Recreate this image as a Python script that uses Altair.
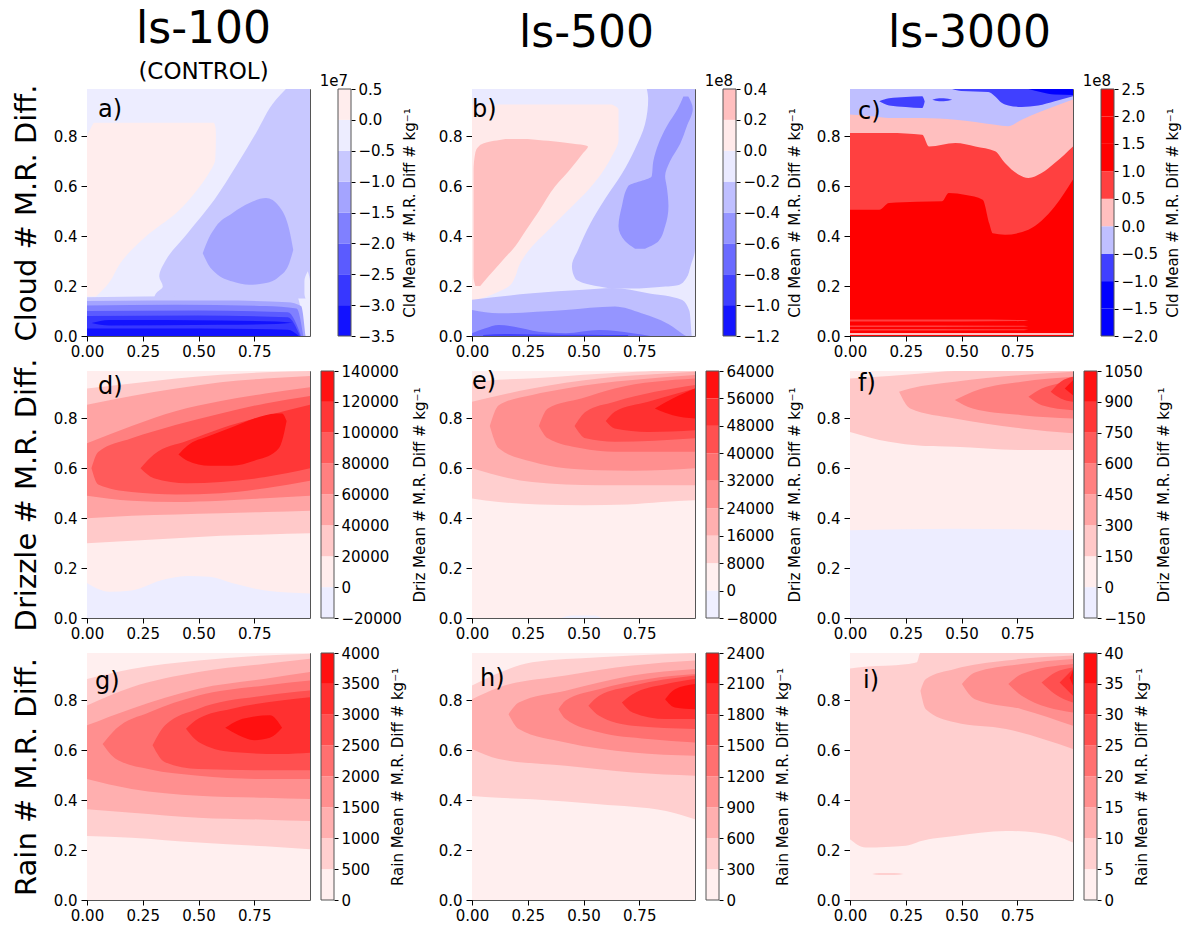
import altair as alt
import pandas as pd

FONT = "DejaVu Sans"
PW, PH = 223, 247
CB_CHART_W, CB_W = 30, 13

# ---------------- column / row texts ----------------
COL_TITLES = ["ls-100", "ls-500", "ls-3000"]
ROW_TITLES = ["Cloud # M.R. Diff.", "Drizzle # M.R. Diff.", "Rain # M.R. Diff."]
CB_TITLES = ["Cld Mean # M.R. Diff # kg⁻¹", "Driz Mean # M.R. Diff # kg⁻¹", "Rain Mean # M.R. Diff # kg⁻¹"]
X_TICKS = [0.0, 0.25, 0.5, 0.75]
Y_TICKS = [0.0, 0.2, 0.4, 0.6, 0.8]

# ---------------- contour levels (colorbar ticks) ----------------
A_LEVELS = [-3.5, -3.0, -2.5, -2.0, -1.5, -1.0, -0.5, 0.0, 0.5]          # x1e7
B_LEVELS = [-1.2, -1.0, -0.8, -0.6, -0.4, -0.2, 0.0, 0.2, 0.4]           # x1e8
C_LEVELS = [-2.0, -1.5, -1.0, -0.5, 0.0, 0.5, 1.0, 1.5, 2.0, 2.5]       # x1e8
D_LEVELS = [-20000, 0, 20000, 40000, 60000, 80000, 100000, 120000, 140000]
E_LEVELS = [-8000, 0, 8000, 16000, 24000, 32000, 40000, 48000, 56000, 64000]
F_LEVELS = [-150, 0, 150, 300, 450, 600, 750, 900, 1050]
G_LEVELS = [0, 500, 1000, 1500, 2000, 2500, 3000, 3500, 4000]
H_LEVELS = [0, 300, 600, 900, 1200, 1500, 1800, 2100, 2400]
I_LEVELS = [0, 5, 10, 15, 20, 25, 30, 35, 40]

# ---------------- band colours (bottom -> top) ----------------
A_COLORS = ["#1212ff", "#3737ff", "#5b5bff", "#8080ff", "#a4a4ff", "#c8c8ff", "#ededff", "#ffeded"]
B_COLORS = ["#1515ff", "#4040ff", "#6a6aff", "#9595ff", "#bfbfff", "#eaeaff", "#ffeaea", "#ffbfbf"]
C_COLORS = ["#0000ff", "#0000ff", "#4040ff", "#bfbfff", "#ffbfbf", "#ff4040", "#ff0000", "#ff0000", "#ff0000"]
D_COLORS = ["#ededff", "#ffeded", "#ffc9c9", "#ffa4a4", "#ff8080", "#ff5b5b", "#ff3737", "#ff1212"]
E_COLORS = ["#efefff", "#ffefef", "#ffcfcf", "#ffafaf", "#ff8f8f", "#ff7070", "#ff5050", "#ff3030", "#ff1010"]
F_COLORS = ["#ededff", "#ffeded", "#ffc8c8", "#ffa4a4", "#ff8080", "#ff5b5b", "#ff3737", "#ff1212"]
G_COLORS = ["#ffefef", "#ffcfcf", "#ffafaf", "#ff8f8f", "#ff7070", "#ff5050", "#ff3030", "#ff1010"]
H_COLORS = G_COLORS
I_COLORS = G_COLORS

# ---------------- filled regions ----------------
# ("v", band, [(x, y_low, y_high), ...])  or  ("h", band, [(y, x_left, x_right), ...])
A_BG = 6
A_REGIONS = [
    ("h", 5, [(0.99, 0.892, 1.0), (0.948, 0.848, 1.0), (0.814, 0.758, 1.0), (0.68, 0.668, 1.0),
              (0.546, 0.571, 1.0), (0.412, 0.451, 1.0), (0.305, 0.354, 1.0), (0.238, 0.324, 1.0),
              (0.198, 0.34, 1.0), (0.171, 0.31, 1.0), (0.15, 0.30, 1.0)]),
    ("h", 7, [(0.855, 0.03, 0.57), (0.83, 0.015, 0.577), (0.80, 0.0, 0.578), (0.707, 0.0, 0.575),
              (0.65, 0.0, 0.545), (0.597, 0.0, 0.504), (0.493, 0.0, 0.40), (0.40, 0.0, 0.265),
              (0.305, 0.0, 0.16), (0.198, 0.0, 0.085), (0.158, 0.0, 0.04)]),
    ("v", 4, [(0.519, 0.332, 0.332), (0.545, 0.285, 0.39), (0.578, 0.252, 0.439), (0.653, 0.218, 0.493),
              (0.728, 0.205, 0.533), (0.803, 0.212, 0.553), (0.862, 0.238, 0.519), (0.907, 0.292, 0.426),
              (0.925, 0.345, 0.345)]),
    ("h", 6, [(0.26, 0.99, 0.99), (0.22, 0.975, 1.0), (0.17, 0.975, 1.0), (0.13, 0.99, 1.0)]),
    ("v", 5, [(0.0, 0.0, 0.155), (0.5, 0.0, 0.16), (0.94, 0.0, 0.16), (0.975, 0.0, 0.0)]),
    ("v", 4, [(0.0, 0.0, 0.14), (0.3, 0.0, 0.142), (0.6, 0.0, 0.142), (0.9, 0.0, 0.135), (0.96, 0.0, 0.12), (0.98, 0.0, 0.0)]),
    ("v", 3, [(0.0, 0.0, 0.122), (0.4, 0.0, 0.125), (0.8, 0.0, 0.12), (0.94, 0.0, 0.11), (0.97, 0.0, 0.0)]),
    ("v", 2, [(0.0, 0.0, 0.10), (0.5, 0.0, 0.102), (0.9, 0.0, 0.095), (0.96, 0.0, 0.0)]),
    ("v", 1, [(0.0, 0.0, 0.08), (0.5, 0.0, 0.082), (0.9, 0.0, 0.075), (0.955, 0.0, 0.0)]),
    ("v", 0, [(0.02, 0.052, 0.052), (0.1, 0.042, 0.064), (0.6, 0.045, 0.062), (0.85, 0.048, 0.058), (0.92, 0.053, 0.053)]),
    ("v", 0, [(0.0, 0.0, 0.03), (0.5, 0.0, 0.03), (0.9, 0.0, 0.025), (0.95, 0.0, 0.0)]),
]

B_BG = 5
B_REGIONS = [
    ("h", 6, [(0.928, 0.0, 0.627), (0.908, 0.0, 0.657), (0.787, 0.0, 0.657), (0.72, 0.0, 0.627),
              (0.653, 0.0, 0.582), (0.586, 0.0, 0.522), (0.519, 0.0, 0.448), (0.466, 0.0, 0.388),
              (0.412, 0.0, 0.328), (0.359, 0.0, 0.269), (0.278, 0.0, 0.209), (0.238, 0.0, 0.194),
              (0.198, 0.0, 0.164), (0.171, 0.0, 0.104), (0.151, 0.0, 0.045), (0.14, 0.0, 0.0)]),
    ("h", 7, [(0.79, 0.15, 0.25), (0.775, 0.06, 0.42), (0.76, 0.03, 0.52), (0.735, 0.015, 0.50),
              (0.66, 0.007, 0.433), (0.6, 0.007, 0.373), (0.5, 0.007, 0.30), (0.42, 0.007, 0.239),
              (0.36, 0.007, 0.194), (0.3, 0.007, 0.134), (0.24, 0.007, 0.075), (0.2, 0.015, 0.037)]),
    ("h", 4, [(0.99, 0.784, 1.0), (0.95, 0.79, 1.0), (0.85, 0.776, 1.0), (0.75, 0.731, 1.0),
              (0.65, 0.672, 1.0), (0.55, 0.597, 1.0), (0.45, 0.53, 1.0), (0.35, 0.478, 1.0),
              (0.28, 0.448, 0.98), (0.23, 0.463, 0.96), (0.205, 0.53, 0.93), (0.19, 0.62, 0.75)]),
    ("v", 4, [(0.0, 0.0, 0.145), (0.27, 0.0, 0.171), (0.5, 0.0, 0.185), (0.63, 0.0, 0.192),
              (0.79, 0.0, 0.171), (0.94, 0.0, 0.145), (0.975, 0.0, 0.10), (0.985, 0.0, 0.0)]),
    ("h", 3, [(0.96, 0.948, 0.97), (0.91, 0.922, 0.99), (0.84, 0.873, 0.963), (0.77, 0.836, 0.933),
              (0.7, 0.813, 0.888), (0.64, 0.806, 0.866), (0.6, 0.70, 0.873), (0.52, 0.672, 0.881),
              (0.44, 0.657, 0.866), (0.38, 0.687, 0.836), (0.35, 0.731, 0.776)]),
    ("v", 3, [(0.0, 0.0, 0.104), (0.12, 0.0, 0.091), (0.42, 0.0, 0.104), (0.64, 0.0, 0.118),
              (0.76, 0.0, 0.091), (0.9, 0.0, 0.037), (0.94, 0.0, 0.011), (0.96, 0.0, 0.0)]),
    ("v", 2, [(0.0, 0.0, 0.011), (0.06, 0.0, 0.031), (0.12, 0.0, 0.044), (0.19, 0.0, 0.037),
              (0.3, 0.0, 0.017), (0.42, 0.0, 0.011), (0.57, 0.0, 0.024), (0.72, 0.0, 0.011), (0.8, 0.0, 0.0)]),
    ("v", 1, [(0.05, 0.0, 0.004), (0.15, 0.0, 0.008), (0.3, 0.0, 0.006), (0.5, 0.0, 0.005), (0.7, 0.0, 0.004)]),
]

C_BG = 6
C_REGIONS = [
    ("v", 5, [(0.0, 0.506, 0.99), (0.131, 0.506, 0.99), (0.175, 0.533, 0.99), (0.3, 0.538, 0.99),
              (0.413, 0.54, 0.99), (0.443, 0.573, 0.99), (0.52, 0.565, 0.99), (0.595, 0.546, 0.99),
              (0.625, 0.45, 0.99), (0.64, 0.412, 0.99), (0.695, 0.406, 0.99), (0.8, 0.426, 0.99),
              (0.918, 0.519, 0.99), (1.0, 0.627, 0.99)]),
    ("v", 4, [(0.0, 0.814, 0.99), (0.175, 0.814, 0.99), (0.324, 0.807, 0.99), (0.354, 0.76, 0.99),
              (0.473, 0.774, 0.99), (0.562, 0.76, 0.99), (0.651, 0.74, 0.99), (0.695, 0.693, 0.99),
              (0.755, 0.647, 0.99), (0.8, 0.633, 0.99), (0.859, 0.653, 0.99), (0.918, 0.693, 0.99),
              (1.0, 0.76, 0.99)]),
    ("v", 3, [(0.0, 0.888, 0.99), (0.1, 0.881, 0.99), (0.175, 0.874, 0.99), (0.324, 0.874, 0.99),
              (0.473, 0.867, 0.99), (0.651, 0.847, 0.99), (0.71, 0.841, 0.99), (0.77, 0.867, 0.99),
              (0.859, 0.901, 0.99), (1.0, 0.948, 0.99)]),
    ("v", 2, [(0.131, 0.941, 0.941), (0.175, 0.924, 0.953), (0.25, 0.918, 0.958), (0.324, 0.914, 0.961), (0.335, 0.94, 0.94)]),
    ("v", 2, [(0.369, 0.947, 0.947), (0.4, 0.941, 0.953), (0.44, 0.943, 0.951), (0.458, 0.947, 0.947)]),
    ("v", 2, [(0.458, 0.99, 0.99), (0.5, 0.982, 0.99), (0.62, 0.978, 0.99), (0.651, 0.96, 0.99),
              (0.68, 0.935, 0.99), (0.71, 0.924, 0.99), (0.77, 0.918, 0.99), (0.844, 0.924, 0.99),
              (0.918, 0.941, 0.99), (1.0, 0.961, 0.99)]),
    ("v", 1, [(0.8, 0.99, 0.99), (0.859, 0.977, 0.99), (0.918, 0.968, 0.99), (1.0, 0.966, 0.99)]),
    ("v", 5, [(0.0, 0.058, 0.066), (0.5, 0.058, 0.066), (0.78, 0.06, 0.064), (0.8, 0.062, 0.062)]),
    ("v", 5, [(0.0, 0.036, 0.042), (0.78, 0.037, 0.041), (0.8, 0.039, 0.039)]),
    ("v", 5, [(0.0, 0.022, 0.028), (0.78, 0.023, 0.027), (0.8, 0.025, 0.025)]),
    ("v", 4, [(0.0, 0.004, 0.012), (1.0, 0.004, 0.012)]),
]

D_BG = 1
D_REGIONS = [
    ("v", 0, [(0.0, 0.0, 0.14), (0.1, 0.0, 0.105), (0.2, 0.0, 0.11), (0.33, 0.0, 0.15), (0.45, 0.0, 0.168),
              (0.55, 0.0, 0.165), (0.65, 0.0, 0.14), (0.8, 0.0, 0.11), (1.0, 0.0, 0.098)]),
    ("v", 2, [(0.0, 0.30, 0.92), (0.2, 0.31, 0.94), (0.4, 0.32, 0.96), (0.6, 0.33, 0.975), (0.8, 0.335, 0.985), (1.0, 0.34, 0.99)]),
    ("v", 3, [(0.0, 0.40, 0.855), (0.2, 0.41, 0.89), (0.4, 0.415, 0.92), (0.6, 0.42, 0.945), (0.8, 0.425, 0.96), (1.0, 0.43, 0.97)]),
    ("v", 4, [(0.0, 0.49, 0.70), (0.2, 0.47, 0.77), (0.4, 0.465, 0.83), (0.6, 0.47, 0.87), (0.8, 0.48, 0.90), (1.0, 0.49, 0.925)]),
    ("v", 5, [(0.02, 0.60, 0.60), (0.05, 0.535, 0.665), (0.2, 0.505, 0.72), (0.4, 0.495, 0.775), (0.6, 0.50, 0.82), (0.8, 0.52, 0.86), (1.0, 0.55, 0.89)]),
    ("v", 6, [(0.24, 0.60, 0.60), (0.3, 0.56, 0.655), (0.45, 0.54, 0.71), (0.6, 0.545, 0.76), (0.8, 0.565, 0.81), (1.0, 0.60, 0.855)]),
    ("v", 7, [(0.41, 0.655, 0.655), (0.45, 0.63, 0.69), (0.55, 0.61, 0.73), (0.65, 0.61, 0.765), (0.75, 0.63, 0.80),
              (0.85, 0.67, 0.82), (0.875, 0.71, 0.82), (0.895, 0.79, 0.79)]),
]

E_BG = 1
E_REGIONS = [
    ("v", 0, [(0.4, 0.0, 0.0), (0.45, 0.0, 0.01), (0.55, 0.0, 0.01), (0.58, 0.0, 0.0)]),
    ("v", 2, [(0.0, 0.479, 0.947), (0.12, 0.465, 0.955), (0.3, 0.455, 0.962), (0.5, 0.452, 0.975), (0.7, 0.455, 0.985), (0.85, 0.465, 0.99), (1.0, 0.472, 0.99)]),
    ("v", 3, [(0.0, 0.60, 0.867), (0.27, 0.545, 0.92), (0.57, 0.532, 0.96), (0.87, 0.532, 0.98), (1.0, 0.532, 0.987)]),
    ("v", 4, [(0.08, 0.77, 0.77), (0.12, 0.68, 0.853), (0.27, 0.626, 0.894), (0.42, 0.60, 0.92), (0.57, 0.592, 0.94), (0.72, 0.59, 0.954), (1.0, 0.60, 0.974)]),
    ("v", 5, [(0.3, 0.77, 0.77), (0.34, 0.72, 0.84), (0.49, 0.68, 0.88), (0.64, 0.666, 0.92), (1.0, 0.666, 0.96)]),
    ("v", 6, [(0.46, 0.77, 0.77), (0.51, 0.72, 0.827), (0.64, 0.706, 0.867), (1.0, 0.72, 0.934)]),
    ("v", 7, [(0.6, 0.79, 0.79), (0.64, 0.76, 0.827), (0.79, 0.746, 0.867), (1.0, 0.753, 0.92)]),
    ("v", 8, [(0.82, 0.84, 0.84), (0.9, 0.813, 0.88), (1.0, 0.80, 0.92)]),
]

F_BG = 1
F_REGIONS = [
    ("v", 0, [(0.0, 0.0, 0.352), (0.47, 0.0, 0.358), (1.0, 0.0, 0.352)]),
    ("v", 2, [(0.0, 0.746, 0.96), (0.175, 0.706, 0.97), (0.32, 0.69, 0.98), (0.47, 0.686, 0.99), (0.77, 0.673, 0.99), (1.0, 0.673, 0.99)]),
    ("v", 3, [(0.22, 0.907, 0.907), (0.27, 0.84, 0.92), (0.47, 0.80, 0.947), (0.77, 0.76, 0.974), (1.0, 0.74, 0.987)]),
    ("v", 4, [(0.47, 0.874, 0.874), (0.55, 0.84, 0.907), (0.77, 0.813, 0.947), (1.0, 0.80, 0.967)]),
    ("v", 5, [(0.80, 0.887, 0.887), (0.86, 0.853, 0.92), (1.0, 0.833, 0.947)]),
    ("v", 6, [(0.90, 0.907, 0.907), (0.945, 0.88, 0.947), (1.0, 0.867, 0.967)]),
    ("v", 7, [(0.963, 0.92, 0.92), (1.0, 0.893, 0.953)]),
]

G_BG = 0
G_REGIONS = [
    ("v", 1, [(0.0, 0.257, 0.886), (0.2, 0.25, 0.926), (0.5, 0.23, 0.96), (0.8, 0.215, 0.98), (1.0, 0.203, 0.987)]),
    ("v", 2, [(0.0, 0.364, 0.78), (0.2, 0.35, 0.853), (0.5, 0.33, 0.914), (0.8, 0.322, 0.947), (1.0, 0.317, 0.967)]),
    ("v", 3, [(0.0, 0.485, 0.70), (0.2, 0.445, 0.767), (0.5, 0.418, 0.847), (0.8, 0.41, 0.887), (1.0, 0.405, 0.914)]),
    ("v", 4, [(0.07, 0.625, 0.625), (0.13, 0.565, 0.686), (0.28, 0.524, 0.753), (0.5, 0.498, 0.82), (0.8, 0.485, 0.86), (1.0, 0.485, 0.88)]),
    ("v", 5, [(0.294, 0.62, 0.62), (0.35, 0.552, 0.70), (0.5, 0.525, 0.767), (0.8, 0.52, 0.82), (1.0, 0.52, 0.84)]),
    ("v", 6, [(0.444, 0.686, 0.686), (0.5, 0.633, 0.727), (0.65, 0.593, 0.767), (0.87, 0.585, 0.80), (1.0, 0.59, 0.813)]),
    ("v", 7, [(0.62, 0.69, 0.69), (0.68, 0.66, 0.72), (0.75, 0.64, 0.735), (0.82, 0.65, 0.74), (0.875, 0.69, 0.69)]),
]

H_BG = 0
H_REGIONS = [
    ("v", 1, [(0.0, 0.417, 0.86), (0.12, 0.41, 0.91), (0.27, 0.404, 0.953), (0.57, 0.384, 0.973), (0.87, 0.357, 0.986), (1.0, 0.324, 0.99)]),
    ("v", 2, [(0.0, 0.605, 0.805), (0.12, 0.565, 0.852), (0.42, 0.538, 0.90), (0.72, 0.511, 0.94), (1.0, 0.498, 0.96)]),
    ("v", 3, [(0.164, 0.745, 0.745), (0.21, 0.685, 0.792), (0.42, 0.631, 0.839), (0.72, 0.591, 0.90), (1.0, 0.578, 0.926)]),
    ("v", 4, [(0.388, 0.765, 0.765), (0.42, 0.725, 0.80), (0.57, 0.672, 0.845), (0.79, 0.645, 0.886), (1.0, 0.631, 0.906)]),
    ("v", 5, [(0.522, 0.779, 0.779), (0.57, 0.738, 0.819), (0.72, 0.698, 0.859), (1.0, 0.685, 0.90)]),
    ("v", 6, [(0.672, 0.792, 0.792), (0.72, 0.752, 0.825), (0.87, 0.725, 0.866), (1.0, 0.725, 0.886)]),
    ("v", 7, [(0.866, 0.805, 0.805), (0.91, 0.772, 0.845), (1.0, 0.765, 0.866)]),
]

I_BG = 0
I_REGIONS = [
    ("v", 1, [(0.0, 0.243, 0.928), (0.07, 0.21, 0.935), (0.25, 0.217, 0.945), (0.3, 0.23, 0.953),
              (0.315, 0.235, 0.99), (0.47, 0.257, 0.99), (0.7, 0.277, 0.99), (0.92, 0.257, 0.99), (1.0, 0.23, 0.99)]),
    ("v", 1, [(0.1, 0.104, 0.104), (0.13, 0.1, 0.108), (0.2, 0.1, 0.108), (0.24, 0.104, 0.104)]),
    ("v", 2, [(0.316, 0.839, 0.839), (0.34, 0.765, 0.886), (0.47, 0.712, 0.926), (0.7, 0.685, 0.96), (1.0, 0.605, 0.98)]),
    ("v", 3, [(0.502, 0.866, 0.866), (0.56, 0.805, 0.912), (0.77, 0.765, 0.946), (1.0, 0.698, 0.966)]),
    ("v", 4, [(0.71, 0.866, 0.866), (0.77, 0.819, 0.906), (1.0, 0.752, 0.946)]),
    ("v", 5, [(0.859, 0.872, 0.872), (0.92, 0.825, 0.912), (1.0, 0.792, 0.932)]),
    ("v", 6, [(0.94, 0.872, 0.872), (1.0, 0.819, 0.926)]),
    ("v", 7, [(0.985, 0.89, 0.89), (1.0, 0.86, 0.92)]),
]

PANELS = [
    ("a)", A_LEVELS, A_COLORS, A_BG, A_REGIONS, ".1f", "1e7"),
    ("b)", B_LEVELS, B_COLORS, B_BG, B_REGIONS, ".1f", "1e8"),
    ("c)", C_LEVELS, C_COLORS, C_BG, C_REGIONS, ".1f", "1e8"),
    ("d)", D_LEVELS, D_COLORS, D_BG, D_REGIONS, "d", None),
    ("e)", E_LEVELS, E_COLORS, E_BG, E_REGIONS, "d", None),
    ("f)", F_LEVELS, F_COLORS, F_BG, F_REGIONS, "d", None),
    ("g)", G_LEVELS, G_COLORS, G_BG, G_REGIONS, "d", None),
    ("h)", H_LEVELS, H_COLORS, H_BG, H_REGIONS, "d", None),
    ("i)", I_LEVELS, I_COLORS, I_BG, I_REGIONS, "d", None),
]
# letter placement inside the panel (pixels from left / from top to baseline)
LETTER_POS = [(11, 28), (0, 28), (8, 30), (11, 23), (0, 18), (8, 20), (8, 36), (8, 33), (13, 35)]
TITLE_DX = [5, 3, 8]
# colour-bar strip offset inside its slot, per row (first row sits further right)
CB_X0 = [17, 0, 0]
CB_TITLE_PAD = [8, 11, 11]

FRAME = "#555555"
LABEL_FS = 15


def panel(i):
    letter, levels, colors, bg, regions, _, _ = PANELS[i]
    r, c = divmod(i, 3)
    sx = alt.Scale(domain=[0, 1], nice=False, zero=False)
    sy = alt.Scale(domain=[0, 0.99], nice=False, zero=False)
    ax = alt.Axis(values=X_TICKS, format=".2f", title=None, grid=False, domain=False,
                  tickSize=5, tickColor="#000", labelFontSize=LABEL_FS, labelColor="#000",
                  labelPadding=3, labelFlush=False, labelOverlap=False)
    ay_kw = dict(values=Y_TICKS, format=".1f", grid=False, domain=False, tickSize=6,
                 tickColor="#000", labelFontSize=LABEL_FS, labelColor="#000", labelPadding=4,
                 labelOverlap=False)
    if c == 0:
        ay = alt.Axis(title=ROW_TITLES[r], titleFontSize=29, titleFontWeight="normal",
                      titleColor="#000", titlePadding=12, **ay_kw)
    else:
        ay = alt.Axis(title=None, **ay_kw)

    bgdf = pd.DataFrame({"x0": [0.0], "x1": [1.0], "y0": [0.0], "y1": [0.99]})
    layers = [alt.Chart(bgdf).mark_rect(color=colors[bg], opacity=1).encode(
        x=alt.X("x0:Q", scale=sx, axis=ax), x2="x1",
        y=alt.Y("y0:Q", scale=sy, axis=ay), y2="y1")]
    for orient, idx, pts in regions:
        if orient == "v":
            df = pd.DataFrame(pts, columns=["x", "lo", "hi"])
            layers.append(alt.Chart(df).mark_area(orient="vertical", interpolate="monotone",
                                                  color=colors[idx], opacity=1, clip=True).encode(
                x=alt.X("x:Q", scale=sx, axis=ax),
                y=alt.Y("lo:Q", scale=sy, axis=ay), y2="hi"))
        else:
            df = pd.DataFrame(pts, columns=["y", "l", "r"])
            layers.append(alt.Chart(df).mark_area(orient="horizontal", interpolate="monotone",
                                                  color=colors[idx], opacity=1, clip=True).encode(
                y=alt.Y("y:Q", scale=sy, axis=ay),
                x=alt.X("l:Q", scale=sx, axis=ax), x2="r"))
    lx, ly = LETTER_POS[i]
    layers.append(alt.Chart(pd.DataFrame({"t": [letter]})).mark_text(
        align="left", baseline="alphabetic", fontSize=24, color="#000").encode(
        text="t:N", x=alt.value(lx), y=alt.value(ly)))
    ch = alt.layer(*layers).properties(width=PW, height=PH,
                                        view=alt.ViewBackground(stroke=FRAME, strokeWidth=1))
    if r == 0:
        if c == 0:
            ch = ch.properties(title=alt.TitleParams(
                COL_TITLES[c], subtitle="(CONTROL)", fontSize=44, subtitleFontSize=23,
                fontWeight="normal", color="#000", subtitleColor="#000", anchor="middle",
                frame="group", offset=0, subtitlePadding=9, dx=TITLE_DX[c]))
        else:
            ch = ch.properties(title=alt.TitleParams(
                COL_TITLES[c], fontSize=44, fontWeight="normal", color="#000",
                anchor="middle", frame="group", offset=33, dx=TITLE_DX[c]))
    return ch


def cbar(i):
    _, levels, colors, _, _, fmt, exp = PANELS[i]
    r = i // 3
    x0 = CB_X0[r]
    yscale = alt.Scale(domain=[levels[0], levels[-1]], nice=False, zero=False)
    yaxis = alt.Axis(orient="right", values=levels, format=fmt, title=CB_TITLES[r],
                     titleAngle=270, titleBaseline="top", titleFontSize=15,
                     titleFontWeight="normal", titleColor="#000", titlePadding=CB_TITLE_PAD[r],
                     grid=False, domain=False, tickSize=4, tickColor="#000",
                     labelFontSize=LABEL_FS, labelColor="#000", labelPadding=3,
                     labelOverlap=False, offset=x0 + CB_W - CB_CHART_W)
    df = pd.DataFrame({"lo": levels[:-1], "hi": levels[1:], "c": colors})
    bands = alt.Chart(df).mark_rect(opacity=1).encode(
        y=alt.Y("lo:Q", scale=yscale, axis=yaxis), y2="hi",
        color=alt.Color("c:N", scale=None),
        x=alt.value(x0), x2=alt.value(x0 + CB_W))
    fdf = pd.DataFrame({"lo": [levels[0]], "hi": [levels[-1]]})
    frame = alt.Chart(fdf).mark_rect(filled=False, stroke=FRAME, strokeWidth=1).encode(
        y=alt.Y("lo:Q", scale=yscale, axis=yaxis), y2="hi",
        x=alt.value(x0), x2=alt.value(x0 + CB_W))
    ch = alt.layer(bands, frame).properties(width=CB_CHART_W, height=PH,
                                            view=alt.ViewBackground(stroke=None))
    if exp:
        ch = ch.properties(title=alt.TitleParams(exp, fontSize=15, fontWeight="normal",
                                                 color="#000", anchor="end", frame="group",
                                                 offset=1, dx=-3, dy=8))
    return ch


def spacer(w):
    return alt.Chart(pd.DataFrame({"v": [0]})).mark_rect(opacity=0).encode(
        x=alt.value(0)).properties(width=w, height=PH, view=alt.ViewBackground(stroke=None))


cells = []
for i in range(9):
    c = i % 3
    cells.append(panel(i))
    cells.append(cbar(i))
    if c == 0:
        cells.append(spacer(99))
    elif c == 1:
        cells.append(spacer(92))

chart = alt.concat(*cells, columns=8, spacing={"row": 35, "column": 11}, bounds="flush").resolve_scale(
    x="independent", y="independent", color="independent"
).properties(
    padding={"left": 11, "top": 7, "right": 5, "bottom": 5}
).configure(font=FONT).configure_axis(labelFont=FONT, titleFont=FONT).configure_title(
    font=FONT, subtitleFont=FONT)

chart.save("out.html", embed_options={"renderer": "svg", "actions": False})
